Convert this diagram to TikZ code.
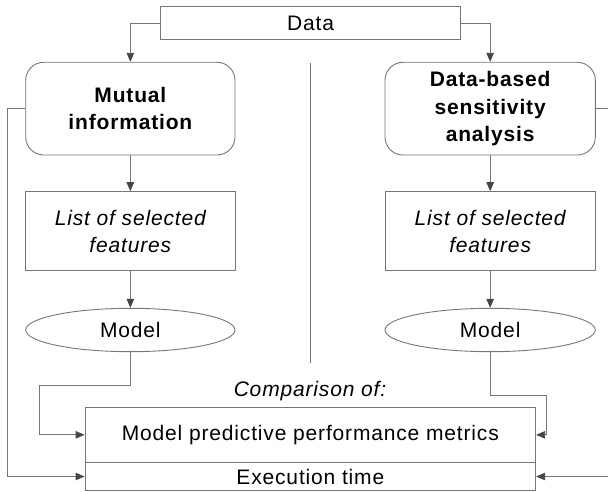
\documentclass[tikz,border=0pt]{standalone}
\usepackage{fontspec}
\setmainfont{Liberation Sans}[LetterSpace=4]
\usetikzlibrary{arrows.meta,shapes.geometric}
\definecolor{lc}{RGB}{118,118,118}
\definecolor{ac}{RGB}{70,70,70}
\tikzset{
  box/.style={draw=lc, line width=0.9pt, rectangle, inner sep=0pt, align=center,
    font=\fontsize{21}{26.5}\selectfont},
  rbox/.style={box, rounded corners=18pt, font=\fontsize{21}{27.3}\selectfont\bfseries},
  ibox/.style={box, font=\fontsize{21}{26.7}\selectfont\itshape},
  ebox/.style={box, ellipse},
  conn/.style={draw=lc, line width=0.9pt},
  arr/.style={conn, -{Triangle[length=9pt,width=7.5pt,color=ac]}},
}
\begin{document}
\begin{tikzpicture}[x=1pt,y=-1pt]
\useasboundingbox (0,0) rectangle (608,492);
\node[box, minimum width=299.6pt, minimum height=32.6pt] (data) at (310.5,23.2) {Data};
\node[rbox, minimum width=209.3pt, minimum height=92.7pt] (mi) at (130.35,108.65) {Mutual\\information};
\node[rbox, minimum width=210.3pt, minimum height=92.7pt] (dbsa) at (490.15,108.65) {Data-based\\sensitivity\\analysis};
\node[ibox, minimum width=209.3pt, minimum height=79pt] (l1) at (130.35,231.2) {List of selected\\features};
\node[ibox, minimum width=210.3pt, minimum height=79pt] (l2) at (490.15,231.2) {List of selected\\features};
\node[ebox, minimum width=209.3pt, minimum height=43.4pt] (m1) at (130.35,330) {Model};
\node[ebox, minimum width=210.3pt, minimum height=43.4pt] (m2) at (490.15,330) {Model};
\node[box, minimum width=450.7pt, minimum height=55.7pt] (perf) at (310.35,434.85) {Model predictive performance metrics};
\node[box, minimum width=450.7pt, minimum height=27.6pt] (exec) at (310.35,476.5) {Execution time};
\node[font=\fontsize{21}{26}\selectfont\itshape, inner sep=0pt] (comp) at (310,391.5) {Comparison of:};
\coordinate (divT) at (310.5,63);
\coordinate (divB) at (310.5,363);
\draw[conn] (divT) -- (divB);
\draw[arr] (data.west) -| (mi.north);
\draw[arr] (data.east) -| (dbsa.north);
\draw[arr] (mi.south) -- (l1.north);
\draw[arr] (dbsa.south) -- (l2.north);
\draw[arr] (l1.south) -- (m1.north);
\draw[arr] (l2.south) -- (m2.north);
\coordinate (c1) at (39.3,385);
\coordinate (c2) at (546.3,395.3);
\draw[arr] (m1.south) |- (c1) |- (perf.west);
\draw[arr] (m2.south) |- (c2) |- (perf.east);
\coordinate (fbL) at (7.3,108.65);
\coordinate (fbR) at (612,108.65);
\draw[arr] (mi.west) -- (fbL) |- (exec.west);
\draw[arr] (dbsa.east) -- (fbR) |- (exec.east);
\end{tikzpicture}
\end{document}
